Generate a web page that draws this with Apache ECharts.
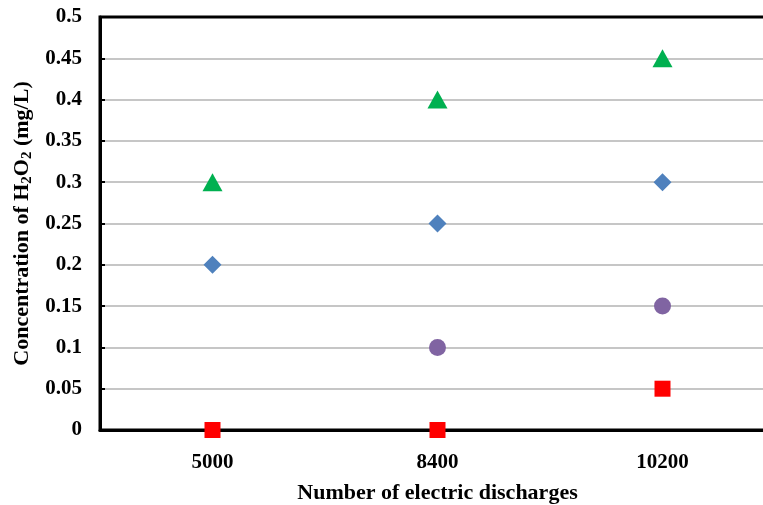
<!DOCTYPE html>
<html><head><meta charset="utf-8">
<script src="https://cdn.jsdelivr.net/npm/echarts@6/dist/echarts.min.js"></script>
<style>html,body{margin:0;padding:0;background:#fff}#c{width:763px;height:505px}</style>
</head><body><div id="c"></div>
<script>
const categories = ['5000', '8400', '10200'];
const triangleVals = [0.3, 0.4, 0.45];
const diamondVals = [0.2, 0.25, 0.3];
const circleVals = [null, 0.1, 0.15];
const squareVals = [0, 0, 0.05];

const font = '"Liberation Serif", "Times New Roman", serif';
const chart = echarts.init(document.getElementById('c'));
function sc(name, data, symbol, size, color) {
  return { name, type: 'scatter', data, symbol, symbolSize: size, itemStyle: { color, opacity: 1 }, z: 5 };
}
const gridColors = ['#000', '#b3b3b3', '#b3b3b3', '#b3b3b3', '#b3b3b3', '#b3b3b3', '#b3b3b3', '#b3b3b3', '#b3b3b3', '#b3b3b3', '#000'];
chart.setOption({
  animation: false,
  grid: { left: 100, top: 17, right: -12, bottom: 75, outerBoundsMode: 'none', containLabel: false,
          show: true, borderColor: '#000', borderWidth: 3, backgroundColor: 'transparent' },
  xAxis: {
    type: 'category', data: categories, boundaryGap: true,
    axisLine: { lineStyle: { color: '#000', width: 3 } },
    axisTick: { show: false },
    axisLabel: { color: '#000', fontFamily: font, fontWeight: 'bold', fontSize: 21, margin: 22 },
    name: 'Number of electric discharges', nameLocation: 'middle', nameGap: 52,
    nameTextStyle: { color: '#000', fontFamily: font, fontWeight: 'bold', fontSize: 22 }
  },
  yAxis: {
    type: 'value', min: 0, max: 0.5, interval: 0.05,
    axisLine: { show: true, lineStyle: { color: '#000', width: 3 } },
    axisTick: { show: true, inside: true, length: 5, lineStyle: { color: '#000', width: 2 } },
    splitLine: { lineStyle: { color: gridColors, width: 1.5 } },
    axisLabel: { color: '#000', fontFamily: font, fontWeight: 'bold', fontSize: 21, margin: 18 },
    name: '{a|Concentration of H}{s|2}{a|O}{s|2}{a| (mg/L)}', nameLocation: 'middle', nameGap: 63, nameRotate: 90,
    nameTextStyle: {
      color: '#000', fontFamily: font, fontWeight: 'bold', fontSize: 22,
      rich: {
        a: { fontFamily: font, fontWeight: 'bold', fontSize: 22, color: '#000' },
        s: { fontFamily: font, fontWeight: 'bold', fontSize: 15, color: '#000', verticalAlign: 'bottom', padding: [10, 0, 0, 0] }
      }
    }
  },
  series: [
    sc('triangle', triangleVals, 'triangle', [20, 18], '#00B050'),
    sc('diamond', diamondVals, 'diamond', 18, '#4F81BD'),
    sc('circle', circleVals, 'circle', 17, '#8064A2'),
    sc('square', squareVals, 'rect', 16, '#FF0000')
  ]
});
</script></body></html>
